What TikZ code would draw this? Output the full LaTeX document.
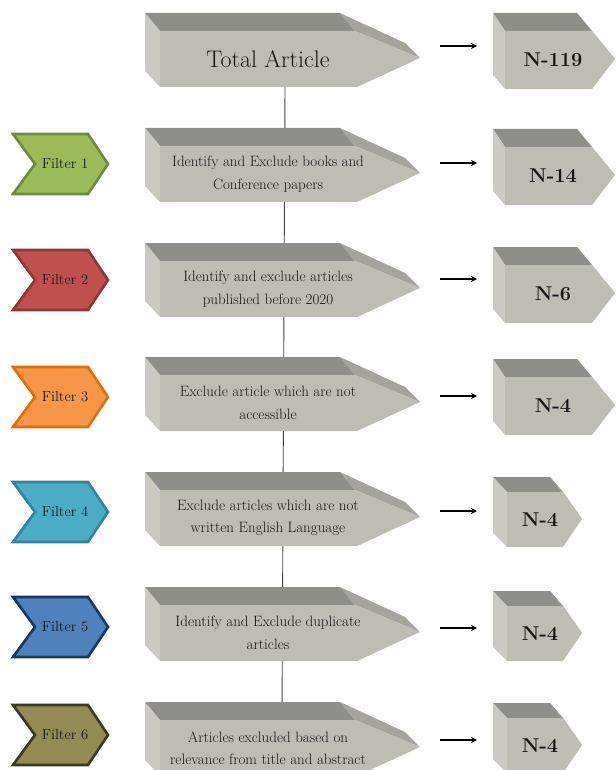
\documentclass[tikz,border=0pt]{standalone}
\usetikzlibrary{arrows.meta}
\definecolor{gfront}{HTML}{BDBDB4}
\definecolor{gtop}{HTML}{8F8F89}
\definecolor{gleft}{HTML}{CACAC2}
\definecolor{gslope}{HTML}{A4A49C}
\definecolor{txt}{HTML}{151515}
\definecolor{fAfill}{HTML}{9BBB59}\definecolor{fAline}{HTML}{71893F}
\definecolor{fBfill}{HTML}{C0504D}\definecolor{fBline}{HTML}{8C3836}
\definecolor{fCfill}{HTML}{F79646}\definecolor{fCline}{HTML}{E46C0A}
\definecolor{fDfill}{HTML}{4BACC6}\definecolor{fDline}{HTML}{31849B}
\definecolor{fEfill}{HTML}{4F81BD}\definecolor{fEline}{HTML}{17375E}
\definecolor{fFfill}{HTML}{948A54}\definecolor{fFline}{HTML}{3B3822}
\tikzset{
  boxtext/.style={text=txt, align=center, font=\fontsize{15}{22.5}\selectfont},
  numtext/.style={text=txt, font=\bfseries\fontsize{20}{24}\selectfont},
  filtertext/.style={text=txt, font=\fontsize{14.5}{16}\selectfont},
  vline/.style={draw=black!75, line width=0.9pt},
  arr/.style={draw=black, line width=1.2pt, -{Stealth[length=6pt,width=6pt]}},
  chev/.style={line width=2.6pt, line join=miter},
}
% big grey box: #1 name, #2 centre y, #3 text, #4 line x
\newcommand\greybox[4]{%
  \fill[gtop] (160,#2-27) -- (145,#2-45) -- (340,#2-45) -- (355,#2-27) -- cycle;
  \fill[gslope] (340,#2-45) -- (405,#2-15) -- (420,#2) -- (355,#2-27) -- cycle;
  \fill[gleft] (145,#2-45) -- (145,#2+13) -- (160,#2+29) -- (160,#2-27) -- cycle;
  \fill[gfront] (160,#2-27) -- (355,#2-27) -- (420,#2) -- (357,#2+29) -- (160,#2+29) -- cycle;
  \coordinate (#1top) at (#4,#2-45);
  \coordinate (#1bot) at (#4,#2+29);
  \node[boxtext] (#1) at (268,#2+1) {#3};
}
% count box, large: #1 name, #2 centre y, #3 text
\newcommand\numboxL[3]{%
  \fill[gtop] (505,#2-28) -- (493,#2-46) -- (577,#2-46) -- (592,#2-28) -- cycle;
  \fill[gslope] (577,#2-46) -- (615,#2) -- (592,#2-28) -- cycle;
  \fill[gleft] (493,#2-46) -- (493,#2+16) -- (505,#2+30) -- (505,#2-28) -- cycle;
  \fill[gfront] (505,#2-28) -- (592,#2-28) -- (615,#2) -- (592,#2+30) -- (505,#2+30) -- cycle;
  \node[numtext] (#1) at (553,#2+1) {#3};
}
% count box, small
\newcommand\numboxS[3]{%
  \fill[gtop] (507,#2-27) -- (493,#2-42) -- (550,#2-42) -- (563,#2-27) -- cycle;
  \fill[gslope] (550,#2-42) -- (582,#2) -- (563,#2-27) -- cycle;
  \fill[gleft] (493,#2-42) -- (493,#2+14) -- (507,#2+28) -- (507,#2-27) -- cycle;
  \fill[gfront] (507,#2-27) -- (563,#2-27) -- (582,#2) -- (563,#2+28) -- (507,#2+28) -- cycle;
  \node[numtext] (#1) at (540,#2+1) {#3};
}
% chevron filter: #1 name, #2 centre y, #3 fill, #4 line, #5 text
\newcommand\filterchev[5]{%
  \filldraw[chev, fill=#3, draw=#4] (13,#2-30) -- (88,#2-30) -- (108,#2) -- (88,#2+30) -- (13,#2+30) -- (35,#2) -- cycle;
  \node[filtertext] (#1) at (65,#2) {#5};
}
\begin{document}
\begin{tikzpicture}[x=1pt,y=-1pt]
\useasboundingbox (0,0) rectangle (615,770);
\coordinate (l0) at (285,87);
\coordinate (l6) at (282,719);
\draw[vline] (l0) -- (l6);
\greybox{t0}{58}{\fontsize{24}{26}\selectfont Total Article}{285}
\greybox{t1}{173}{Identify and Exclude books and\\Conference papers}{284.5}
\greybox{t2}{288}{Identify and exclude articles\\published before 2020}{284}
\greybox{t3}{402}{Exclude article which are not\\accessible}{283.5}
\greybox{t4}{517}{Exclude articles which are not\\written English Language}{283}
\greybox{t5}{632}{Identify and Exclude duplicate\\articles}{282.5}
\greybox{t6}{747}{Articles excluded based on\\relevance from title and abstract}{282}
\numboxL{n0}{59}{N-119}
\numboxL{n1}{175}{N-14}
\numboxL{n2}{293}{N-6}
\numboxL{n3}{405}{N-4}
\numboxS{n4}{519}{N-4}
\numboxS{n5}{633}{N-4}
\numboxS{n6}{745}{N-4}
\filterchev{f1}{164}{fAfill}{fAline}{Filter 1}
\filterchev{f2}{280}{fBfill}{fBline}{Filter 2}
\filterchev{f3}{397}{fCfill}{fCline}{Filter 3}
\filterchev{f4}{512}{fDfill}{fDline}{Filter 4}
\filterchev{f5}{627}{fEfill}{fEline}{Filter 5}
\filterchev{f6}{735}{fFfill}{fFline}{Filter 6}
\foreach \i/\y in {0/46,1/163,2/279,3/396,4/511,5/628,6/740}{
  \coordinate (as\i) at (440,\y);
  \coordinate (ae\i) at (477,\y);
  \draw[arr] (as\i) -- (ae\i);
}
\end{tikzpicture}
\end{document}
